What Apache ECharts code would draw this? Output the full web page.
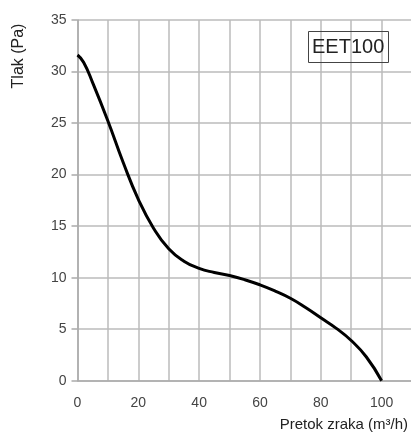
<!DOCTYPE html>
<html>
<head>
<meta charset="utf-8">
<script src="https://cdn.jsdelivr.net/npm/echarts@6/dist/echarts.min.js"></script>
<style>
html,body{margin:0;padding:0;background:#fff;overflow:hidden;}
#c{width:411px;height:432px;}
</style>
</head>
<body>
<div id="c"></div>
<script>
var airflow = [0, 2, 5, 10, 15, 20, 25, 30, 35, 40, 45, 50, 55, 60, 65, 70, 75, 80, 85, 90, 95, 100];
var pressure = [31.6, 30.9, 28.9, 25.2, 21.2, 17.6, 14.8, 12.8, 11.6, 10.9, 10.5, 10.2, 9.8, 9.3, 8.7, 8.0, 7.1, 6.1, 5.1, 3.9, 2.3, 0];
var xTicks = [0, 20, 40, 60, 80, 100];
var modelName = 'EET100';
var xName = 'Pretok zraka (m³/h)';
var yName = 'Tlak (Pa)';

var pts = airflow.map(function (x, i) { return [x, pressure[i]]; });
var chart = echarts.init(document.getElementById('c'), null, {renderer: 'canvas'});
var font = 'Liberation Sans, Arial, sans-serif';
chart.setOption({
  animation: false,
  backgroundColor: '#fff',
  grid: {left: 77.5, right: -1, top: 20, bottom: 51.3, containLabel: false, outerBoundsMode: 'none'},
  title: {
    text: modelName, left: 308, top: 31,
    borderColor: '#444', borderWidth: 1, padding: [5, 4, 5, 4],
    textStyle: {fontFamily: font, fontSize: 20, lineHeight: 22, fontWeight: 'normal', color: '#222'}
  },
  xAxis: {
    type: 'value', min: 0, max: 110, interval: 10,
    axisLine: {show: true, lineStyle: {color: '#aaa', width: 1.5}},
    axisTick: {show: false},
    splitLine: {show: true, showMaxLine: false, lineStyle: {color: '#bbb', width: 1.5}},
    axisLabel: {
      fontFamily: font, fontSize: 14, color: '#444', margin: 15,
      formatter: function (v) { return xTicks.indexOf(v) >= 0 ? String(v) : ''; }
    }
  },
  yAxis: {
    type: 'value', min: 0, max: 35, interval: 5,
    axisLine: {show: true, lineStyle: {color: '#aaa', width: 1.5}},
    axisTick: {show: true, length: 6, lineStyle: {color: '#aaa', width: 1.5}},
    splitLine: {show: true, lineStyle: {color: '#bbb', width: 1.5}},
    axisLabel: {fontFamily: font, fontSize: 14, color: '#444', margin: 11}
  },
  graphic: [
    {type: 'text', x: 408, y: 424.5,
      style: {text: xName, font: '15px ' + font, fill: '#222', textAlign: 'right', textVerticalAlign: 'middle'}},
    {type: 'text', x: 18.5, y: 56, rotation: Math.PI / 2,
      style: {text: yName, font: '16px ' + font, fill: '#222', textAlign: 'center', textVerticalAlign: 'middle'}}
  ],
  series: [{
    type: 'line', data: pts, smooth: 0.5, showSymbol: false,
    lineStyle: {color: '#000', width: 3}
  }]
});
</script>
</body>
</html>
